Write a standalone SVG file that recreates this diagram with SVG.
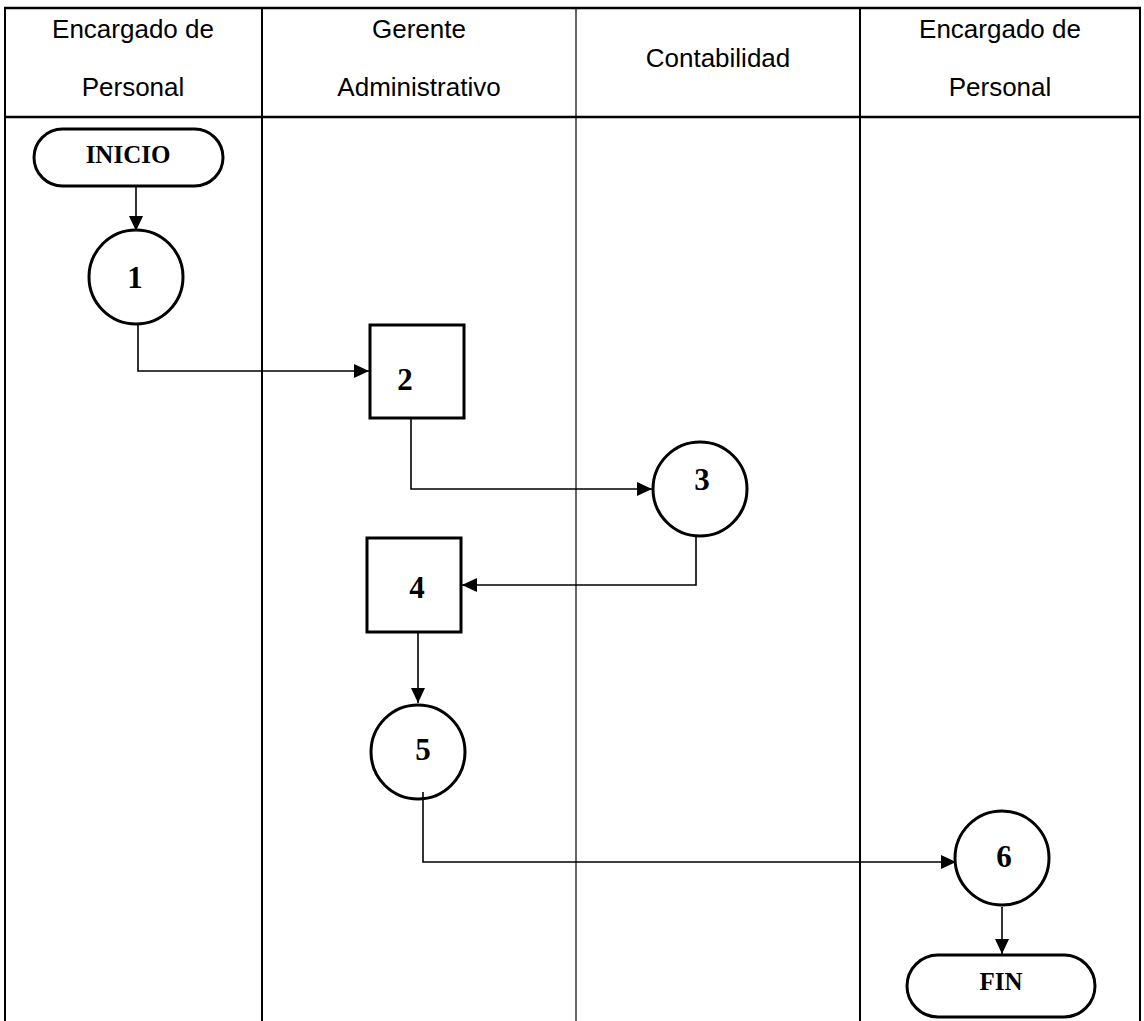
<svg xmlns="http://www.w3.org/2000/svg" width="1144" height="1021" viewBox="0 0 1144 1021">
<style>
.hdr{font-family:"Liberation Sans",Arial,sans-serif;font-size:26px;fill:#000;text-anchor:middle}
.lbl{font-family:"Liberation Serif","Times New Roman",serif;font-weight:bold;font-size:25px;fill:#000;text-anchor:middle}
.num{font-size:31px}
.shape{fill:#fff;stroke:#000;stroke-width:3}
.conn{fill:none;stroke:#000;stroke-width:1.6}
.grid{stroke:#000;fill:none}
</style>
<defs>
<marker id="arr" viewBox="0 0 15 14" refX="15" refY="7" markerWidth="15" markerHeight="14" markerUnits="userSpaceOnUse" orient="auto">
<path d="M0,0 L15,7 L0,14 Z" fill="#000"/>
</marker>
</defs>
<rect width="1144" height="1021" fill="#fff"/>
<g id="table">
<line class="grid" x1="4" y1="8" x2="1141" y2="8" stroke-width="2.5"/>
<line class="grid" x1="4" y1="117" x2="1141" y2="117" stroke-width="2.5"/>
<line class="grid" x1="5" y1="7" x2="5" y2="1021" stroke-width="2"/>
<line class="grid" x1="262" y1="7" x2="262" y2="1021" stroke-width="2"/>
<line class="grid" x1="576" y1="7" x2="576" y2="1021" stroke-width="1.2"/>
<line class="grid" x1="860" y1="7" x2="860" y2="1021" stroke-width="2"/>
<line class="grid" x1="1140" y1="7" x2="1140" y2="1021" stroke-width="2"/>
<text class="hdr" x="133" y="38">Encargado de</text>
<text class="hdr" x="133" y="96">Personal</text>
<text class="hdr" x="419" y="38">Gerente</text>
<text class="hdr" x="419" y="96">Administrativo</text>
<text class="hdr" x="718" y="67">Contabilidad</text>
<text class="hdr" x="1000" y="38">Encargado de</text>
<text class="hdr" x="1000" y="96">Personal</text>
</g>
<g id="inicio">
<rect class="shape" x="34" y="129" width="189" height="57" rx="28.5"/>
<text class="lbl" x="128" y="163">INICIO</text>
</g>
<g id="n1">
<circle class="shape" cx="136" cy="277" r="47"/>
<text class="lbl num" x="135" y="288">1</text>
</g>
<g id="n2">
<rect class="shape" x="370" y="325" width="94" height="93"/>
<text class="lbl num" x="405" y="390">2</text>
</g>
<g id="n3">
<circle class="shape" cx="700" cy="489" r="47"/>
<text class="lbl num" x="702" y="490">3</text>
</g>
<g id="n4">
<rect class="shape" x="367" y="538" width="94" height="94"/>
<text class="lbl num" x="417" y="598">4</text>
</g>
<g id="n5">
<circle class="shape" cx="418" cy="752" r="47"/>
<text class="lbl num" x="423" y="760">5</text>
</g>
<g id="n6">
<circle class="shape" cx="1002" cy="858" r="47"/>
<text class="lbl num" x="1004" y="867">6</text>
</g>
<g id="fin">
<rect class="shape" x="907" y="955" width="188" height="62" rx="31"/>
<text class="lbl" x="1001" y="990">FIN</text>
</g>
<g id="connectors">
<path class="conn" d="M136,187 V231" marker-end="url(#arr)"/>
<path class="conn" d="M138,325 V371 H369" marker-end="url(#arr)"/>
<path class="conn" d="M411,419 V489 H652" marker-end="url(#arr)"/>
<path class="conn" d="M696,537 V585 H462" marker-end="url(#arr)"/>
<path class="conn" d="M418,633 V703" marker-end="url(#arr)"/>
<path class="conn" d="M423,792 V862 H956" marker-end="url(#arr)"/>
<path class="conn" d="M1002,907 V954" marker-end="url(#arr)"/>
</g>
</svg>
